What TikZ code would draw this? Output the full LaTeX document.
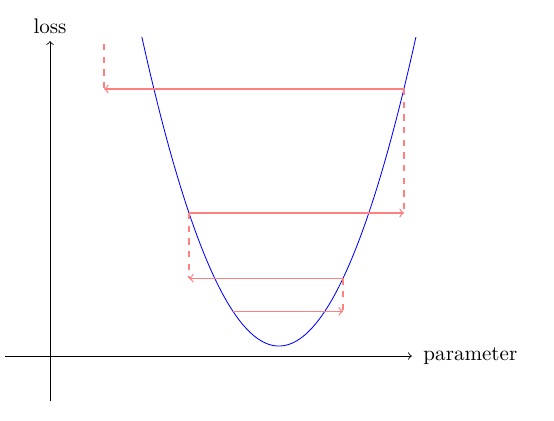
\documentclass[tikz,border=0pt]{standalone}
\usepackage{amsmath}
\usepackage{tikz}
\usetikzlibrary{positioning}
\usepackage{xcolor}

\begin{document}
\begin{tikzpicture}[scale=1.5]

\useasboundingbox (-0.556,-0.711) rectangle (5.6,3.956);

% axes
\draw[->] (-0.5,0) -- (4.02,0) node[right=2pt] (xlab) {parameter};
\draw[->] (0,-0.5) -- (0,3.5) node[above] (ylab) {loss};

% loss curve
\draw[blue, domain=1.02:4.066, samples=100] plot (\x,{1.481*(\x-2.543)^2+0.111});

% descent steps
\coordinate (s0) at (0.6,3.467);
\coordinate (a0) at (0.6,2.967);
\coordinate (p1) at (3.933,2.967);
\coordinate (a1) at (3.933,1.589);
\coordinate (p2) at (1.544,1.589);
\coordinate (a2) at (1.544,0.864);
\coordinate (p3) at (3.256,0.864);
\coordinate (a3) at (3.256,0.496);
\coordinate (p4) at (2.033,0.496);

\draw[red!50, semithick, dashed] (s0) -- (a0);
\draw[red!50, semithick, ->] (p1) -- (a0);
\draw[red!50, semithick, dashed] (p1) -- (a1);
\draw[red!50, semithick, ->] (p2) -- (a1);
\draw[red!50, semithick, dashed] (p2) -- (a2);
\draw[red!50, semithick, ->] (p3) -- (a2);
\draw[red!50, semithick, dashed] (p3) -- (a3);
\draw[red!50, semithick, ->] (p4) -- (a3);

\end{tikzpicture}
\end{document}
